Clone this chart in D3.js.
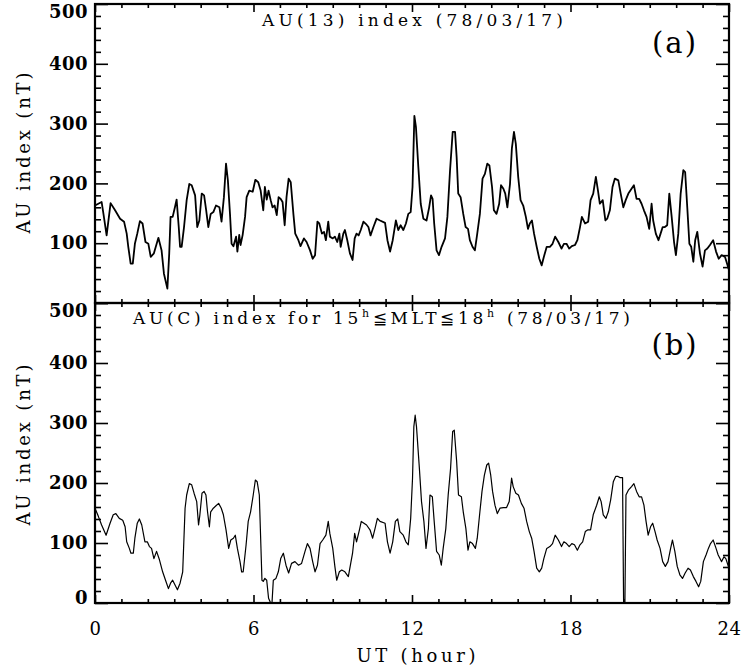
<!DOCTYPE html>
<html>
<head>
<meta charset="utf-8">
<script src="https://cdn.jsdelivr.net/npm/d3@7"></script>
<style>
  body { margin: 0; background: #fff; }
  svg text { font-family: "DejaVu Serif", serif; fill: #000; }
</style>
</head>
<body>
<div id="chart"></div>
<script>
// AU(13) index, [UT hour, nT]
const auA = [
  [0,163],[0.25,169],[0.32,149],[0.44,113],[0.59,167],[0.76,155],[0.95,141],[1.10,136],[1.20,116],[1.26,94],
  [1.35,66],[1.43,66],[1.51,99],[1.60,116],[1.70,137],[1.80,133],[1.91,102],[2.02,99],[2.11,77],[2.23,83],
  [2.40,109],[2.52,88],[2.61,49],[2.74,24],[2.81,83],[2.86,144],[2.94,144],[3.03,161],[3.09,173],[3.17,127],
  [3.22,94],[3.28,94],[3.37,127],[3.47,172],[3.57,199],[3.66,197],[3.79,180],[3.87,127],[3.95,138],[4.04,183],
  [4.13,180],[4.20,158],[4.29,127],[4.38,149],[4.48,152],[4.58,163],[4.71,160],[4.79,136],[4.88,177],[4.96,233],
  [5.03,205],[5.11,149],[5.17,99],[5.24,95],[5.34,111],[5.39,86],[5.46,114],[5.51,97],[5.59,114],[5.68,144],
  [5.74,177],[5.84,188],[5.97,186],[6.07,206],[6.18,202],[6.27,188],[6.37,155],[6.43,194],[6.50,173],[6.57,188],
  [6.65,172],[6.72,160],[6.80,163],[6.88,147],[6.95,177],[7.03,174],[7.10,169],[7.18,130],[7.25,177],[7.33,208],
  [7.41,202],[7.51,149],[7.58,116],[7.70,105],[7.78,95],[7.91,108],[8.01,102],[8.14,88],[8.24,74],[8.33,80],
  [8.42,136],[8.49,133],[8.59,116],[8.67,119],[8.74,105],[8.83,136],[8.89,111],[9.00,108],[9.08,111],[9.17,102],
  [9.25,116],[9.30,94],[9.40,116],[9.46,122],[9.55,105],[9.65,83],[9.75,72],[9.83,108],[9.90,116],[9.98,113],
  [10.06,122],[10.16,136],[10.26,132],[10.35,127],[10.43,113],[10.54,127],[10.66,141],[10.79,138],[10.98,134],[11.07,105],
  [11.17,86],[11.27,105],[11.39,138],[11.48,122],[11.57,130],[11.67,122],[11.77,133],[11.86,149],[11.95,152],[12.02,194],
  [12.09,313],[12.15,294],[12.24,227],[12.33,166],[12.43,141],[12.55,138],[12.65,160],[12.72,180],[12.78,174],[12.84,133],
  [12.93,88],[13.02,80],[13.12,94],[13.25,108],[13.34,144],[13.44,222],[13.54,286],[13.63,286],[13.69,244],[13.75,183],
  [13.84,177],[13.94,149],[14.03,127],[14.12,124],[14.19,105],[14.29,94],[14.38,88],[14.47,116],[14.57,149],[14.67,208],
  [14.76,216],[14.85,233],[14.93,230],[15.03,194],[15.10,155],[15.20,149],[15.30,166],[15.37,197],[15.46,191],[15.53,183],
  [15.61,160],[15.71,199],[15.78,258],[15.86,286],[15.93,266],[16.02,211],[16.11,172],[16.21,163],[16.31,144],[16.39,124],
  [16.46,133],[16.54,138],[16.62,116],[16.72,94],[16.82,74],[16.91,63],[16.99,77],[17.10,94],[17.22,94],[17.32,99],
  [17.42,111],[17.54,102],[17.66,91],[17.75,99],[17.85,99],[17.95,91],[18.05,95],[18.17,97],[18.26,105],[18.36,127],
  [18.43,144],[18.55,133],[18.67,136],[18.76,172],[18.86,183],[18.96,211],[19.04,188],[19.11,166],[19.22,172],[19.32,138],
  [19.39,141],[19.49,155],[19.59,194],[19.68,208],[19.81,205],[19.90,183],[20.00,160],[20.09,172],[20.19,183],[20.31,191],
  [20.40,197],[20.50,174],[20.60,174],[20.69,166],[20.78,155],[20.88,144],[20.98,124],[21.07,166],[21.13,138],[21.23,116],
  [21.33,105],[21.41,116],[21.49,127],[21.57,127],[21.66,130],[21.74,183],[21.83,144],[21.92,102],[21.99,80],[22.08,116],
  [22.17,183],[22.27,222],[22.34,219],[22.42,160],[22.50,99],[22.57,94],[22.65,69],[22.72,105],[22.80,119],[22.90,83],
  [23.00,61],[23.09,88],[23.18,91],[23.28,97],[23.40,105],[23.51,86],[23.61,74],[23.72,80],[23.85,77],[24,55]
];

// AU(C) index for 15h <= MLT <= 18h
const auB = [
  [0,158],[0.13,144],[0.25,130],[0.42,113],[0.57,133],[0.69,147],[0.79,149],[0.92,141],[1.05,138],[1.14,127],
  [1.20,102],[1.30,91],[1.36,83],[1.45,83],[1.51,108],[1.60,133],[1.68,140],[1.77,130],[1.89,102],[1.98,102],
  [2.06,94],[2.14,91],[2.23,74],[2.33,86],[2.44,72],[2.56,52],[2.67,38],[2.78,24],[2.86,33],[2.94,38],
  [3.03,30],[3.12,22],[3.22,33],[3.32,52],[3.41,158],[3.47,180],[3.57,199],[3.66,197],[3.75,183],[3.85,169],
  [3.92,130],[3.97,147],[4.05,183],[4.13,186],[4.20,180],[4.26,152],[4.33,127],[4.38,152],[4.48,158],[4.58,162],
  [4.68,166],[4.78,158],[4.86,147],[4.96,122],[5.06,91],[5.14,105],[5.24,108],[5.31,113],[5.39,91],[5.49,69],
  [5.55,52],[5.61,52],[5.72,97],[5.80,136],[5.89,152],[5.99,180],[6.07,205],[6.14,202],[6.22,180],[6.32,38],
  [6.37,36],[6.43,41],[6.50,38],[6.57,8],[6.65,0],[6.70,0],[6.75,38],[6.85,41],[6.94,52],[7.03,74],
  [7.13,83],[7.23,63],[7.33,50],[7.44,66],[7.57,69],[7.70,63],[7.82,66],[7.95,86],[8.04,99],[8.14,91],
  [8.24,69],[8.33,52],[8.42,63],[8.52,99],[8.62,105],[8.74,113],[8.83,136],[8.89,116],[9.00,91],[9.08,61],
  [9.15,38],[9.25,52],[9.34,55],[9.46,52],[9.59,44],[9.68,66],[9.75,83],[9.83,116],[9.90,102],[10.01,122],
  [10.08,136],[10.18,133],[10.28,130],[10.41,122],[10.51,108],[10.60,124],[10.69,141],[10.79,136],[10.98,133],[11.07,102],
  [11.17,83],[11.27,102],[11.37,136],[11.46,140],[11.54,119],[11.67,113],[11.77,102],[11.86,97],[11.95,141],[12.02,208],
  [12.07,294],[12.12,313],[12.17,294],[12.28,224],[12.36,169],[12.45,136],[12.53,91],[12.62,124],[12.68,180],[12.77,177],
  [12.84,136],[12.93,86],[13.03,80],[13.11,63],[13.18,91],[13.28,124],[13.37,180],[13.46,224],[13.54,286],[13.60,288],
  [13.69,236],[13.76,180],[13.87,177],[13.94,152],[14.04,124],[14.12,88],[14.19,102],[14.29,99],[14.40,91],[14.47,108],
  [14.57,152],[14.65,186],[14.74,213],[14.83,230],[14.90,233],[14.98,213],[15.05,186],[15.14,163],[15.23,149],[15.33,158],
  [15.46,159],[15.58,159],[15.68,169],[15.77,208],[15.83,194],[15.93,183],[16.03,180],[16.14,166],[16.24,158],[16.34,136],
  [16.44,119],[16.53,108],[16.62,86],[16.72,58],[16.82,52],[16.91,58],[16.99,74],[17.10,91],[17.22,94],[17.32,99],
  [17.42,113],[17.54,105],[17.66,94],[17.75,102],[17.85,99],[17.95,94],[18.05,99],[18.15,97],[18.26,88],[18.36,97],
  [18.46,102],[18.56,119],[18.66,122],[18.76,122],[18.86,147],[18.99,163],[19.09,177],[19.16,169],[19.24,147],[19.34,141],
  [19.43,152],[19.52,172],[19.62,202],[19.71,211],[19.80,211],[19.87,209],[19.97,209],[20.01,0],[20.06,0],[20.10,180],
  [20.19,188],[20.31,194],[20.40,199],[20.50,186],[20.60,177],[20.69,177],[20.78,163],[20.86,136],[20.94,113],[21.03,127],
  [21.11,133],[21.20,119],[21.28,105],[21.39,91],[21.49,69],[21.59,61],[21.69,69],[21.79,91],[21.86,105],[21.95,86],
  [22.04,61],[22.14,47],[22.24,41],[22.34,50],[22.45,58],[22.54,55],[22.65,44],[22.75,36],[22.85,27],[22.93,36],
  [23.03,69],[23.13,80],[23.22,91],[23.30,99],[23.40,105],[23.51,91],[23.59,80],[23.72,69],[23.81,77],[23.88,74],
  [24,58]
];

const yMajor = [0, 100, 200, 300, 400, 500];
const xMajor = [0, 6, 12, 18, 24];

const W = 745, H = 669;
const plotLeft = 95, plotRight = 729;
const plotTop = 4, plotMid = 303, plotBottom = 603;

const svg = d3.select("#chart").append("svg")
  .attr("width", W)
  .attr("height", H);

const x = d3.scaleLinear().domain([0, 24]).range([plotLeft, plotRight]);

function drawPanel(data, y0, y1, opts) {
  const y = d3.scaleLinear().domain([0, 500]).range([y1, y0]);
  const g = svg.append("g");

  const minorY = d3.range(0, 501, 20).filter(v => v % 100 !== 0);
  const minorX = d3.range(0, 25, 1).filter(v => v % 6 !== 0);

  // y axes, ticks pointing inward
  const yl = g.append("g").attr("transform", `translate(${plotLeft},0)`)
    .call(d3.axisLeft(y).tickValues(yMajor).tickSize(-13).tickPadding(7));
  yl.selectAll(".tick text")
    .style("font-size", "18px")
    .style("font-weight", "bold")
    .attr("letter-spacing", 0.5)
    .attr("dy", d => d === 500 ? "0.75em" : (d === 0 ? "0.0em" : "0.32em"))
    .style("display", d => (d === 0 && !opts.showZero) ? "none" : null);
  g.append("g").attr("transform", `translate(${plotLeft},0)`)
    .call(d3.axisLeft(y).tickValues(minorY).tickSize(-6).tickFormat(""));
  g.append("g").attr("transform", `translate(${plotRight},0)`)
    .call(d3.axisRight(y).tickValues(yMajor).tickSize(-13).tickFormat(""));
  g.append("g").attr("transform", `translate(${plotRight},0)`)
    .call(d3.axisRight(y).tickValues(minorY).tickSize(-6).tickFormat(""));

  // x axes top and bottom
  g.append("g").attr("transform", `translate(0,${y0})`)
    .call(d3.axisTop(x).tickValues(xMajor).tickSize(-8).tickFormat(""));
  g.append("g").attr("transform", `translate(0,${y0})`)
    .call(d3.axisTop(x).tickValues(minorX).tickSize(-4).tickFormat(""));
  const xb = g.append("g").attr("transform", `translate(0,${y1})`)
    .call(d3.axisBottom(x).tickValues(xMajor).tickSize(-8).tickPadding(19)
      .tickFormat(opts.xLabels ? d3.format("d") : ""));
  xb.selectAll(".tick text").style("font-size", "18px").attr("letter-spacing", 0.5);
  g.append("g").attr("transform", `translate(0,${y1})`)
    .call(d3.axisBottom(x).tickValues(minorX).tickSize(-4).tickFormat(""));

  g.selectAll(".domain").remove();
  g.selectAll(".tick line").attr("stroke", "#000").attr("stroke-width", 1.6);

  // frame
  g.append("rect")
    .attr("x", plotLeft).attr("y", y0)
    .attr("width", plotRight - plotLeft).attr("height", y1 - y0)
    .attr("fill", "none").attr("stroke", "#000").attr("stroke-width", 2.2);

  const line = d3.line().x(d => x(d[0])).y(d => y(d[1]));
  g.append("path")
    .datum(data)
    .attr("d", line)
    .attr("fill", "none")
    .attr("stroke", "#000")
    .attr("stroke-width", opts.lw)
    .attr("stroke-linejoin", "round");

  // y title
  g.append("text")
    .attr("transform", `translate(30,${opts.ylabY}) rotate(-90)`)
    .attr("text-anchor", "middle")
    .style("font-size", "18px")
    .attr("textLength", 161)
    .attr("lengthAdjust", "spacing")
    .text("AU index (nT)");

  // panel letter
  g.append("text")
    .attr("x", 675).attr("y", y0 + opts.letterDy)
    .attr("text-anchor", "middle")
    .style("font-size", "29px")
    .attr("letter-spacing", 2)
    .text(opts.letter);

  return g;
}

const ga = drawPanel(auA, plotTop, plotMid, { lw: 1.8, showZero: false, xLabels: false, ylabY: 153, letter: "(a)", letterDy: 49 });
const gb = drawPanel(auB, plotMid, plotBottom, { lw: 1.2, showZero: true, xLabels: true, ylabY: 445, letter: "(b)", letterDy: 52 });

// titles
ga.append("text")
  .attr("x", 262).attr("y", 26)
  .style("font-size", "17px")
  .attr("textLength", 301)
  .attr("lengthAdjust", "spacing")
  .text("AU(13) index (78/03/17)");

const tb = gb.append("text")
  .attr("x", 133).attr("y", 324)
  .style("font-size", "17px")
  .attr("textLength", 497)
  .attr("lengthAdjust", "spacing");
tb.append("tspan").text("AU(C) index for 15");
tb.append("tspan").attr("dy", -7).style("font-size", "11px").text("h");
tb.append("tspan").attr("dy", 7).text("≦MLT≦18");
tb.append("tspan").attr("dy", -7).style("font-size", "11px").text("h");
tb.append("tspan").attr("dy", 7).text(" (78/03/17)");

// x title
svg.append("text")
  .attr("x", 416).attr("y", 662)
  .attr("text-anchor", "middle")
  .style("font-size", "18px")
  .attr("textLength", 119)
  .attr("lengthAdjust", "spacing")
  .text("UT (hour)");
</script>
</body>
</html>
